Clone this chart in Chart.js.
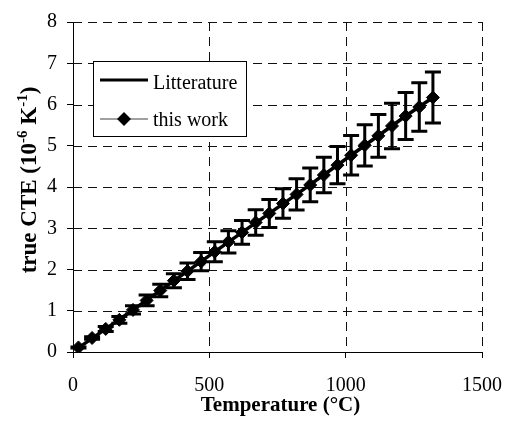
<!DOCTYPE html>
<html lang="en">
<head>
    <meta charset="UTF-8">
    <title>True CTE vs Temperature</title>
    <script src="https://cdn.jsdelivr.net/npm/chart.js"></script>
    <style>
        body {
            margin: 0;
            padding: 0;
            background: #fff;
        }
        .chart-container {
            position: relative;
            width: 518px;
            height: 421px;
        }
    </style>
</head>
<body>
    <div class="chart-container">
        <canvas id="cteChart"></canvas>
    </div>

    <script>
        // Measured points (this work), with error bar half-widths
        const temperatures = [20, 70, 120, 170, 220, 270, 320, 370, 420, 470, 520, 570, 620, 670,
            720, 770, 820, 870, 920, 970, 1020, 1070, 1120, 1170, 1220, 1270, 1320];
        const cteValues = [0.11, 0.34, 0.56, 0.78, 1.02, 1.25, 1.49, 1.73, 1.96, 2.19, 2.43, 2.67, 2.90, 3.14,
            3.36, 3.60, 3.82, 4.05, 4.29, 4.53, 4.77, 5.01, 5.24, 5.48, 5.72, 5.94, 6.17];
        const cteErrors = [0.01, 0.03, 0.06, 0.08, 0.10, 0.13, 0.15, 0.17, 0.20, 0.22, 0.24, 0.27, 0.29, 0.31,
            0.34, 0.36, 0.38, 0.41, 0.43, 0.45, 0.48, 0.50, 0.52, 0.55, 0.57, 0.59, 0.62];

        // Literature curve
        const litTemperatures = [20, 220, 420, 620, 820, 1020, 1220, 1320];
        const litValues = [0.10, 1.02, 1.96, 2.90, 3.82, 4.77, 5.72, 6.17];

        const xTicks = [0, 500, 1000, 1500];
        const yTicks = [0, 1, 2, 3, 4, 5, 6, 7, 8];

        const serif = '"Liberation Serif", "Times New Roman", serif';

        // dashed grid inside the plot area (axis lines stay solid)
        const dashedGrid = {
            id: 'dashedGrid',
            beforeDatasetsDraw(chart) {
                const { ctx, chartArea: a, scales: { x, y } } = chart;
                ctx.save();
                ctx.strokeStyle = '#111';
                ctx.lineWidth = 1;
                ctx.setLineDash([9, 6]);
                xTicks.filter(v => v !== 0).forEach(v => {
                    const px = Math.round(x.getPixelForValue(v)) + 0.5;
                    ctx.beginPath();
                    ctx.moveTo(px, a.top);
                    ctx.lineTo(px, a.bottom);
                    ctx.stroke();
                });
                yTicks.filter(v => v !== 0).forEach(v => {
                    const py = Math.round(y.getPixelForValue(v)) + 0.5;
                    ctx.beginPath();
                    ctx.moveTo(a.left, py);
                    ctx.lineTo(a.right, py);
                    ctx.stroke();
                });
                ctx.restore();
            }
        };

        // error bars drawn under the markers
        const errorBars = {
            id: 'errorBars',
            beforeDatasetsDraw(chart) {
                const { ctx, scales: { x, y } } = chart;
                ctx.save();
                ctx.strokeStyle = '#000';
                ctx.lineWidth = 3;
                temperatures.forEach((t, i) => {
                    const px = x.getPixelForValue(t);
                    const top = y.getPixelForValue(cteValues[i] + cteErrors[i]);
                    const bot = y.getPixelForValue(cteValues[i] - cteErrors[i]);
                    ctx.beginPath();
                    ctx.moveTo(px, top);
                    ctx.lineTo(px, bot);
                    ctx.moveTo(px - 8, top);
                    ctx.lineTo(px + 8, top);
                    ctx.moveTo(px - 8, bot);
                    ctx.lineTo(px + 8, bot);
                    ctx.stroke();
                });
                ctx.restore();
            }
        };

        // y title with superscripts, legend box, x title
        const annotations = {
            id: 'annotations',
            afterDraw(chart) {
                const { ctx, chartArea } = chart;
                ctx.save();

                // y axis title
                const parts = [
                    { t: 'true CTE (10', sup: false },
                    { t: '-6', sup: true },
                    { t: ' K', sup: false },
                    { t: '-1', sup: true },
                    { t: ')', sup: false }
                ];
                const mainFont = 'bold 23px ' + serif;
                const supFont = 'bold 15px ' + serif;
                let total = 0;
                parts.forEach(p => {
                    ctx.font = p.sup ? supFont : mainFont;
                    p.w = ctx.measureText(p.t).width;
                    total += p.w;
                });
                ctx.translate(36, 180);
                ctx.rotate(-Math.PI / 2);
                ctx.fillStyle = '#000';
                ctx.textBaseline = 'alphabetic';
                ctx.textAlign = 'left';
                let cx = -total / 2;
                parts.forEach(p => {
                    ctx.font = p.sup ? supFont : mainFont;
                    ctx.fillText(p.t, cx, p.sup ? -9 : 0);
                    cx += p.w;
                });
                ctx.restore();

                // x axis title
                ctx.save();
                ctx.font = 'bold 21px ' + serif;
                ctx.fillStyle = '#000';
                ctx.textAlign = 'center';
                ctx.textBaseline = 'alphabetic';
                ctx.fillText('Temperature (°C)', (chartArea.left + chartArea.right) / 2 + 3, 411);
                ctx.restore();

                // legend
                ctx.save();
                ctx.fillStyle = '#fff';
                ctx.fillRect(93, 61, 154, 76);
                ctx.strokeStyle = '#000';
                ctx.lineWidth = 1;
                ctx.strokeRect(93.5, 61.5, 153, 75);

                ctx.strokeStyle = '#000';
                ctx.lineWidth = 3;
                ctx.beginPath();
                ctx.moveTo(100, 80);
                ctx.lineTo(148, 80);
                ctx.stroke();

                ctx.strokeStyle = '#808080';
                ctx.lineWidth = 1.5;
                ctx.beginPath();
                ctx.moveTo(100, 119);
                ctx.lineTo(148, 119);
                ctx.stroke();

                ctx.fillStyle = '#000';
                ctx.beginPath();
                ctx.moveTo(124, 112);
                ctx.lineTo(131, 119);
                ctx.lineTo(124, 126);
                ctx.lineTo(117, 119);
                ctx.closePath();
                ctx.fill();

                ctx.font = '20px ' + serif;
                ctx.textAlign = 'left';
                ctx.textBaseline = 'alphabetic';
                ctx.fillText(chart.data.datasets[0].label, 153, 89);
                ctx.fillText(chart.data.datasets[1].label, 153, 126);
                ctx.restore();
            }
        };

        const ctx = document.getElementById('cteChart').getContext('2d');
        new Chart(ctx, {
            type: 'scatter',
            data: {
                datasets: [{
                    label: 'Litterature',
                    data: litTemperatures.map((t, i) => ({ x: t, y: litValues[i] })),
                    showLine: true,
                    borderColor: '#000',
                    borderWidth: 3.5,
                    pointRadius: 0,
                    order: 2
                }, {
                    label: 'this work',
                    data: temperatures.map((t, i) => ({ x: t, y: cteValues[i] })),
                    showLine: false,
                    pointStyle: 'rectRot',
                    pointRadius: 6.5,
                    backgroundColor: '#000',
                    borderColor: '#000',
                    borderWidth: 1,
                    order: 1
                }]
            },
            options: {
                responsive: true,
                maintainAspectRatio: false,
                animation: false,
                layout: {
                    padding: { top: 16, right: 28, bottom: 0, left: 0 }
                },
                plugins: {
                    legend: { display: false },
                    tooltip: { enabled: false }
                },
                scales: {
                    x: {
                        type: 'linear',
                        min: 0,
                        max: 1500,
                        afterBuildTicks: s => { s.ticks = xTicks.map(v => ({ value: v })); },
                        afterFit: s => { s.height = 69; },
                        grid: {
                            drawOnChartArea: false,
                            tickLength: 6,
                            tickColor: '#000'
                        },
                        border: { display: true, color: '#000', width: 1 },
                        ticks: {
                            color: '#000',
                            padding: 16,
                            maxRotation: 0,
                            callback: v => String(v),
                            font: { family: serif, size: 20 }
                        }
                    },
                    y: {
                        type: 'linear',
                        min: 0,
                        max: 8,
                        afterBuildTicks: s => { s.ticks = yTicks.map(v => ({ value: v })); },
                        afterFit: s => { s.width = 73; },
                        grid: {
                            drawOnChartArea: false,
                            tickLength: 6,
                            tickColor: '#000'
                        },
                        border: { display: true, color: '#000', width: 1 },
                        ticks: {
                            color: '#000',
                            padding: 10,
                            callback: v => String(v),
                            font: { family: serif, size: 20 }
                        }
                    }
                }
            },
            plugins: [dashedGrid, errorBars, annotations]
        });
    </script>
</body>
</html>
